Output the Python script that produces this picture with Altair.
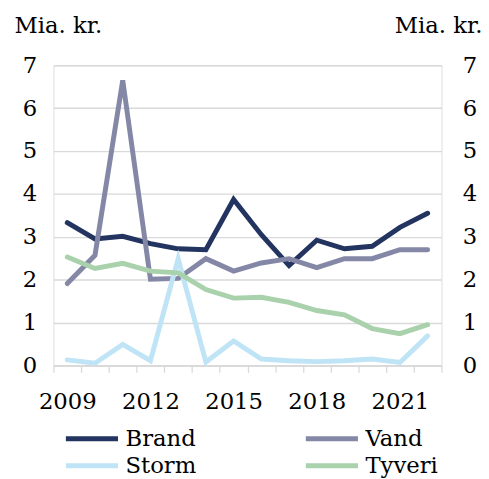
import altair as alt
import pandas as pd

years = [2009, 2010, 2011, 2012, 2013, 2014, 2015, 2016, 2017, 2018, 2019, 2020, 2021, 2022]
brand = [3.33, 2.95, 3.01, 2.84, 2.72, 2.70, 3.87, 3.05, 2.33, 2.92, 2.72, 2.78, 3.22, 3.55]
vand = [1.91, 2.57, 6.65, 2.01, 2.03, 2.49, 2.20, 2.39, 2.49, 2.28, 2.49, 2.49, 2.70, 2.70]
storm = [0.13, 0.05, 0.49, 0.11, 2.49, 0.08, 0.57, 0.15, 0.11, 0.09, 0.11, 0.15, 0.07, 0.69]
tyveri = [2.53, 2.26, 2.38, 2.20, 2.16, 1.77, 1.57, 1.59, 1.47, 1.28, 1.18, 0.86, 0.74, 0.95]

series_names = ["Brand", "Vand", "Storm", "Tyveri"]
series_colors = ["#22345f", "#8488a6", "#bfe4f6", "#a8d1ac"]
shown_years = ["2009", "2012", "2015", "2018", "2021"]
y_ticks = [0, 1, 2, 3, 4, 5, 6, 7]

rows = []
for name, vals in zip(series_names, [brand, vand, storm, tyveri]):
    for yr, v in zip(years, vals):
        rows.append({"year": str(yr), "series": name, "value": v})
df = pd.DataFrame(rows)

FONT = "DejaVu Serif"
FS = 23
GRID = "#d9d9d9"

label_expr = "indexof(" + str(shown_years) + ", datum.label) >= 0 ? datum.label : ''"

base = alt.Chart(df).encode(
    x=alt.X(
        "year:O",
        scale=alt.Scale(type="band", paddingInner=0, paddingOuter=0),
        bandPosition=0.5,
        axis=alt.Axis(
            title=None,
            labelAngle=0,
            labelExpr=label_expr,
            tickBand="extent",
            tickSize=7,
            tickColor=GRID,
            tickWidth=1.3,
            domainColor=GRID,
            domainWidth=1.5,
            labelPadding=19,
            labelFont=FONT,
            labelFontSize=FS,
            labelColor="#000000",
            grid=False,
        ),
    ),
    color=alt.Color(
        "series:N",
        sort=series_names,
        scale=alt.Scale(domain=series_names, range=series_colors),
        legend=alt.Legend(
            title=None,
            orient="none",
            direction="horizontal",
            legendX=24.5,
            legendY=363.5,
            columns=2,
            columnPadding=100,
            rowPadding=0.5,
            symbolType="M-2.2,0L2.2,0",
            symbolSize=576,
            symbolStrokeWidth=5,
            labelOffset=19.5,
            labelFont=FONT,
            labelFontSize=FS,
            labelColor="#000000",
            labelLimit=300,
        ),
    ),
)

left = base.mark_line(strokeWidth=5, strokeCap="round").encode(
    y=alt.Y(
        "value:Q",
        scale=alt.Scale(domain=[0, 7], nice=False),
        axis=alt.Axis(
            values=y_ticks,
            title="Mia. kr.",
            titleAngle=0,
            titleAlign="left",
            titleBaseline="alphabetic",
            titleX=-40,
            titleY=-33,
            titleFont=FONT,
            titleFontSize=FS,
            titleFontWeight="normal",
            titleColor="#000000",
            labelFont=FONT,
            labelFontSize=FS,
            labelColor="#000000",
            labelPadding=17,
            ticks=False,
            domain=False,
            gridColor=GRID,
            gridWidth=1.4,
        ),
    ),
)

right = base.mark_line(strokeWidth=5, opacity=0).encode(
    y=alt.Y(
        "value:Q",
        scale=alt.Scale(domain=[0, 7], nice=False),
        axis=alt.Axis(
            orient="right",
            values=y_ticks,
            title="Mia. kr.",
            titleAngle=0,
            titleAlign="right",
            titleBaseline="alphabetic",
            titleX=41,
            titleY=-33,
            titleFont=FONT,
            titleFontSize=FS,
            titleFontWeight="normal",
            titleColor="#000000",
            labelFont=FONT,
            labelFontSize=FS,
            labelColor="#000000",
            labelAlign="left",
            labelPadding=21,
            ticks=False,
            domain=False,
            grid=False,
        ),
    ),
)

chart = (
    alt.layer(left, right)
    .resolve_scale(y="independent")
    .properties(
        width=393,
        height=304,
        autosize=alt.AutoSizeParams(type="none"),
        padding={"left": 46, "top": 55, "right": 40, "bottom": 112},
    )
    .configure_view(stroke=None)
    .configure(background="#ffffff")
)

chart.save("out.html", embed_options={"renderer": "svg", "actions": False})
